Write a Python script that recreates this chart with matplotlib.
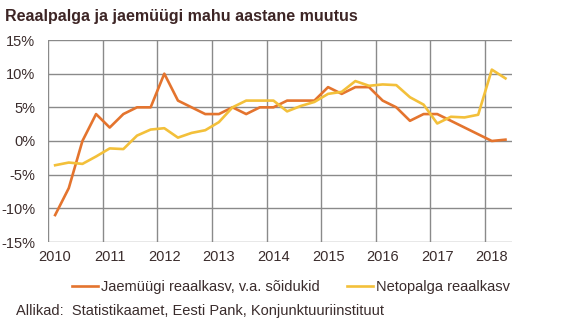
import matplotlib
matplotlib.use("Agg")
import matplotlib.pyplot as plt
import numpy as np

plt.rcParams['font.family'] = ['Liberation Sans', 'DejaVu Sans']

years = ['2010', '2011', '2012', '2013', '2014', '2015', '2016', '2017', '2018']
yticks = [-15, -10, -5, 0, 5, 10, 15]
ytick_labels = ['-15%', '-10%', '-5%', '0%', '5%', '10%', '15%']

# Quarterly values, 2010 Q1 .. 2018 Q2
retail = [-11, -7, 0, 4, 2, 4, 5, 5, 10, 6, 5, 4, 4, 5, 4, 5,
          5, 6, 6, 6, 8, 7, 8, 8, 6, 5, 3, 4, 4, 3, 2, 1, 0, 0.2]
wages = [-3.6, -3.2, -3.4, -2.3, -1.1, -1.2, 0.8, 1.7, 1.9, 0.5, 1.2, 1.6, 2.8, 5.0, 6.0, 6.0,
         6.0, 4.4, 5.2, 5.8, 7.0, 7.3, 8.9, 8.2, 8.4, 8.3, 6.5, 5.4, 2.6, 3.6, 3.5, 3.9, 10.6, 9.3]

label_retail = 'Jaemüügi reaalkasv, v.a. sõidukid'
label_wages = 'Netopalga reaalkasv'
title = 'Reaalpalga ja jaemüügi mahu aastane muutus'
source = 'Allikad:  Statistikaamet, Eesti Pank, Konjunktuuriinstituut'

c_orange = '#E4742E'
c_yellow = '#F3C03A'
txt = '#3a2c2c'

fig = plt.figure(figsize=(5.76, 3.26), dpi=100)
ax = fig.add_axes([48.3/576, 1-242/326, (512.3-48.3)/576, (242-40)/326])

x = np.arange(len(retail))
ax.plot(x, retail, color=c_orange, lw=1.9, label=label_retail, zorder=3)
ax.plot(x, wages, color=c_yellow, lw=1.9, label=label_wages, zorder=3)

ax.set_xlim(-0.5, len(retail) - 0.5)
ax.set_ylim(-15, 15)

for s in ax.spines.values():
    s.set_visible(False)

gc = '#8a8a8a'
for yv in yticks:
    ax.axhline(yv, color=gc, lw=1.0, zorder=1)
for k in range(len(years)):
    ax.axvline(-0.5 + 4*k, color=gc, lw=1.0, zorder=1)

ax.set_yticks(yticks)
ax.set_yticklabels(ytick_labels)
ax.set_xticks([4*k for k in range(len(years))])
ax.set_xticklabels(years)
ax.tick_params(axis='both', length=0, labelsize=10.5, labelcolor=txt)
ax.tick_params(axis='y', pad=9.5)
ax.tick_params(axis='x', pad=6)

fig.text(0.008, 1-17/326, title, fontsize=11.5, fontweight='bold', color='#3d2525',
         ha='left', va='center')

leg = fig.legend(loc='center', bbox_to_anchor=(291/576, 1-287/326), ncol=2, frameon=False,
                 fontsize=10.5, handlelength=1.8, handletextpad=0.2, columnspacing=1.9,
                 labelcolor=txt)

fig.text(16/576, 1-311/326, source, fontsize=10.5, color=txt, ha='left', va='center')

fig.savefig('out.png', dpi=100)
